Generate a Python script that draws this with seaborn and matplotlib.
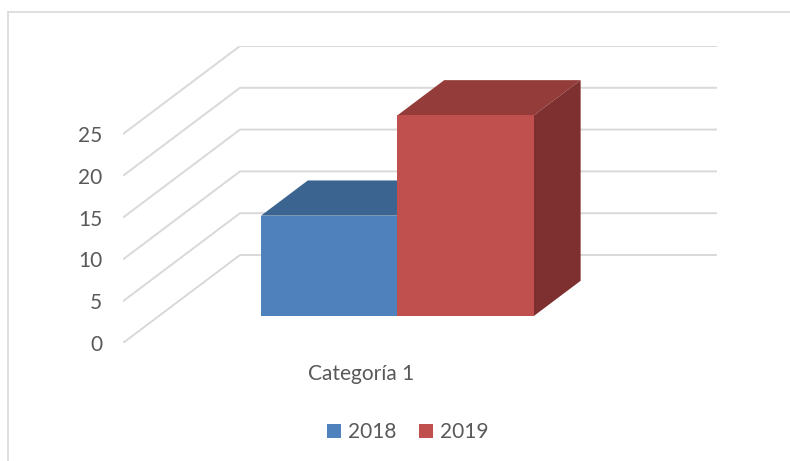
import matplotlib
matplotlib.use("Agg")
import matplotlib.pyplot as plt
from matplotlib.patches import Polygon, Patch
from matplotlib.lines import Line2D
from matplotlib.container import BarContainer
import seaborn as sns
import pandas as pd

# ---- data ----
categories = ["Categoría 1"]
years = ["2018", "2019"]
values_2018 = [12]
values_2019 = [24]
yticks = [0, 5, 10, 15, 20, 25]

front_colors = ["#4F81BD", "#C0504D"]
top_colors = ["#3C6490", "#943C3A"]
side_colors = ["#325580", "#7D302F"]
grid_color = "#D9D9D9"
text_color = "#595959"

df = pd.DataFrame({
    "cat": categories * 2,
    "year": [years[0]] * len(values_2018) + [years[1]] * len(values_2019),
    "val": values_2018 + values_2019,
})

sns.set_style("white")
plt.rcParams["font.family"] = ["Lato", "DejaVu Sans"]

W, H = 790, 461
fig = plt.figure(figsize=(W / 100, H / 100), dpi=100)
ax = fig.add_axes([123 / W, (H - 343) / H, 594 / W, 297 / H])

# oblique depth (full depth of the chart box, in data units)
DX = 117 / 477
DY = 88 / 8.36
d0 = 0.307     # depth where bar fronts sit
dep = 0.40     # bar depth

sns.barplot(data=df, x="cat", y="val", hue="year", palette=front_colors,
            width=0.572, gap=0, linewidth=0, saturation=1, ax=ax, zorder=3,
            legend=False)

bars = [c.patches[0] for c in ax.containers if isinstance(c, BarContainer)]
for i, p in enumerate(bars):
    x0 = p.get_x() + d0 * DX
    y0 = d0 * DY
    w = p.get_width()
    h = p.get_height()
    p.set_x(x0)
    p.set_y(y0)
    z = 3 + 3 * i
    p.set_zorder(z + 2)
    top = Polygon([(x0, y0 + h), (x0 + w, y0 + h),
                   (x0 + w + dep * DX, y0 + h + dep * DY),
                   (x0 + dep * DX, y0 + h + dep * DY)],
                  closed=True, facecolor=top_colors[i], edgecolor="none", zorder=z)
    side = Polygon([(x0 + w, y0), (x0 + w + dep * DX, y0 + dep * DY),
                    (x0 + w + dep * DX, y0 + h + dep * DY), (x0 + w, y0 + h)],
                   closed=True, facecolor=side_colors[i], edgecolor="none", zorder=z)
    ax.add_patch(top)
    ax.add_patch(side)

xmin, xmax = -0.5, 0.5 + DX
ax.set_xlim(xmin, xmax)
ax.set_ylim(0, yticks[-1] + DY)

# gridlines: left wall diagonals + back wall horizontals
for v in yticks:
    ax.plot([xmin, xmin + DX, xmax], [v, v + DY, v + DY],
            color=grid_color, lw=1.4, zorder=0, solid_capstyle="butt")

ax.set_yticks(yticks)
ax.set_yticklabels([str(t) for t in yticks])
ax.set_xticks([0])
ax.set_xticklabels(categories)
ax.tick_params(axis="y", length=0, pad=15, labelsize=15, labelcolor=text_color)
ax.tick_params(axis="x", length=0, pad=15, labelsize=15, labelcolor=text_color)
ax.set_xlabel("")
ax.set_ylabel("")
for s in ax.spines.values():
    s.set_visible(False)
ax.set_facecolor("none")

handles = [Patch(facecolor=c, edgecolor="none") for c in front_colors]
fig.legend(handles, years, loc="center", bbox_to_anchor=(408 / W, 1 - 432 / H),
           ncol=2, frameon=False, fontsize=15, labelcolor=text_color,
           handlelength=0.65, handleheight=0.65, handletextpad=0.35, columnspacing=1.1)

# chart border (top and left visible)
fig.add_artist(Line2D([8 / W, 1], [1 - 12 / H, 1 - 12 / H], color=grid_color, lw=1.2,
                      transform=fig.transFigure))
fig.add_artist(Line2D([8 / W, 8 / W], [0, 1 - 12 / H], color=grid_color, lw=1.2,
                      transform=fig.transFigure))

fig.savefig("out.png", dpi=100)
